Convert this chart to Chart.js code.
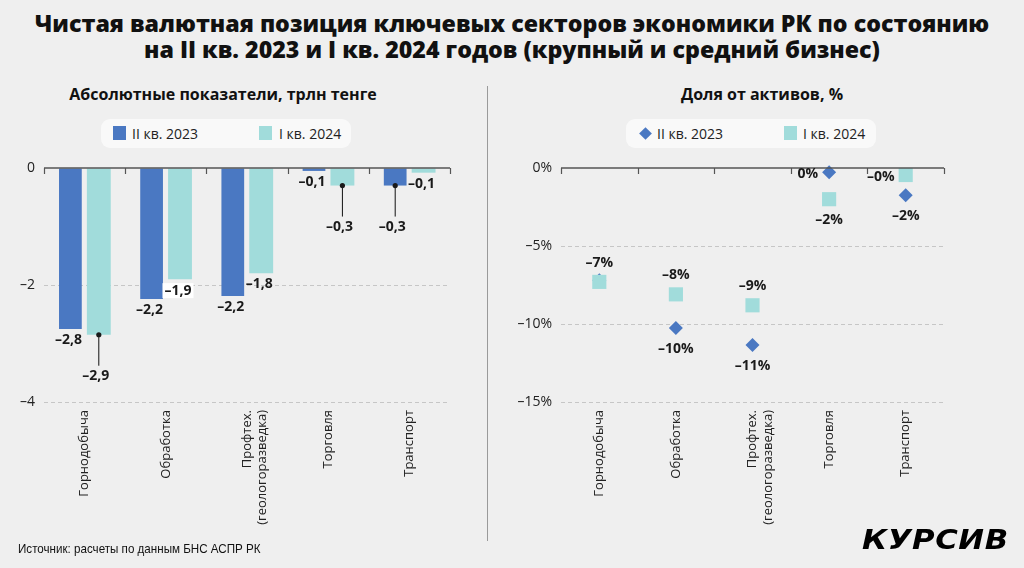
<!DOCTYPE html>
<html><head><meta charset="utf-8">
<script src="https://cdn.jsdelivr.net/npm/chart.js@4.4.0/dist/chart.umd.min.js"></script>
<style>
html,body{margin:0;padding:0;background:#efefef;}
body{width:1024px;height:568px;position:relative;overflow:hidden;font-family:'Open Sans',sans-serif;color:#111;}
.title{position:absolute;left:0;top:10px;width:1024px;text-align:center;font-weight:800;font-size:23.2px;line-height:26px;color:#111;}
.sub{position:absolute;top:84px;font-weight:700;font-size:16px;line-height:20px;text-align:center;white-space:nowrap;color:#111;}
.legend{position:absolute;top:119px;height:29px;width:250px;background:#f9f9f9;border-radius:9px;font-size:14px;color:#222;}
.legend .txt{position:absolute;top:0;line-height:29px;white-space:nowrap;}
.legend .sq{position:absolute;top:7px;width:13px;height:14px;}
.legend .dm{position:absolute;top:10px;width:9px;height:9px;transform:rotate(45deg);}
.divider{position:absolute;left:487px;top:86px;width:1px;height:455px;background:#9a9a9a;}
.source{position:absolute;left:18px;top:541px;font-family:'Liberation Sans Narrow','Liberation Sans',sans-serif;font-size:13.5px;line-height:16px;color:#111;white-space:nowrap;transform:scaleX(0.86);transform-origin:0 0;}
.logo{position:absolute;left:862px;top:524px;font-family:'DejaVu Sans',sans-serif;font-weight:900;font-style:italic;font-size:27px;line-height:32px;letter-spacing:0.5px;color:#000;white-space:nowrap;transform:scaleX(1.14);transform-origin:0 0;}
canvas{position:absolute;top:0;}
#c1{left:0;}
#c2{left:487px;}
</style>
</head>
<body>
<div class="title">Чистая валютная позиция ключевых секторов экономики РК по состоянию<br>на II кв. 2023 и I кв. 2024 годов (крупный и средний бизнес)</div>
<div class="sub" style="left:23px;width:400px;">Абсолютные показатели, трлн тенге</div>
<div class="sub" style="left:562px;width:400px;">Доля от активов, %</div>
<div class="legend" style="left:101px;">
  <div class="sq" style="left:12px;background:#4a78c2;"></div><div class="txt" style="left:31px;">II кв. 2023</div>
  <div class="sq" style="left:158px;background:#a1dcdb;"></div><div class="txt" style="left:178px;">I кв. 2024</div>
</div>
<div class="legend" style="left:626px;">
  <div class="dm" style="left:15px;background:#4a78c2;"></div><div class="txt" style="left:31px;">II кв. 2023</div>
  <div class="sq" style="left:158px;background:#a1dcdb;"></div><div class="txt" style="left:177px;">I кв. 2024</div>
</div>
<div class="divider"></div>
<canvas id="c1" width="487" height="568"></canvas>
<canvas id="c2" width="537" height="568"></canvas>
<div class="source">Источник: расчеты по данным БНС АСПР РК</div>
<div class="logo">КУРСИВ</div>
<script>
// ---- data ----
const categories = ['Горнодобыча', 'Обработка', ['Профтех.', '(геологоразведка)'], 'Торговля', 'Транспорт'];
const seriesNames = ['II кв. 2023', 'I кв. 2024'];
const abs2023 = [-2.75, -2.24, -2.19, -0.05, -0.30];
const abs2024 = [-2.85, -1.90, -1.80, -0.30, -0.08];
const absLabels2023 = ['–2,8', '–2,2', '–2,2', '–0,1', '–0,3'];
const absLabels2024 = ['–2,9', '–1,9', '–1,8', '–0,3', '–0,1'];
const pct2023 = [-7.2, -10.25, -11.35, -0.28, -1.75];
const pct2024 = [-7.3, -8.1, -8.8, -2.0, -0.45];
const pctLabels2023 = ['', '–10%', '–11%', '0%', '–2%'];
const pctLabels2024 = ['–7%', '–8%', '–9%', '–2%', '–0%'];
const absTicks = [0, -2, -4];
const pctTicks = [0, -5, -10, -15];

// ---- label placement (style) ----
const absPlace2023 = ['below', 'below', 'below', 'below', 'leader'];
const absPlace2024 = ['leader', 'boxed', 'below', 'leader', 'below'];
const pctPlace2023 = ['none', 'below', 'below', 'left', 'below'];
const pctPlace2024 = ['above', 'above', 'above', 'below', 'left'];

const BLUE = '#4a78c2', CYAN = '#a1dcdb';
Chart.defaults.font.family = "'Open Sans', sans-serif";
Chart.defaults.color = '#222';

const decor = {
  id: 'decor',
  afterDatasetsDraw(chart) {
    const ctx = chart.ctx, x = chart.scales.x, y = chart.scales.y, a = chart.chartArea;
    const y0 = y.getPixelForValue(0);
    ctx.save();
    ctx.strokeStyle = '#555'; ctx.lineWidth = 1.5;
    ctx.beginPath(); ctx.moveTo(a.left, y0); ctx.lineTo(a.right, y0); ctx.stroke();
    ctx.lineWidth = 1.2;
    for (let i = 0; i <= categories.length; i++) {
      const px = Math.round(x.getPixelForValue(i - 0.5)) + 0.5;
      ctx.beginPath(); ctx.moveTo(px, y0); ctx.lineTo(px, y0 + 6); ctx.stroke();
    }
    // labels
    const cfg = chart.options.plugins.decor;
    ctx.font = 'bold 14px "Open Sans"';
    ctx.textBaseline = 'middle';
    cfg.sets.forEach((s, di) => {
      const meta = chart.getDatasetMeta(di);
      meta.data.forEach((el, j) => {
        const txt = s.labels[j], mode = s.place[j];
        if (!txt || mode === 'none') return;
        const ex = el.x, ey = el.y;
        ctx.fillStyle = '#1a1a1a'; ctx.textAlign = 'center';
        if (cfg.kind === 'bar') {
          if (mode === 'below') {
            ctx.fillText(txt, ex - 2, ey + 11);
          } else if (mode === 'boxed') {
            const w = ctx.measureText(txt).width;
            ctx.fillStyle = '#ffffff';
            ctx.fillRect(ex - 2 - w / 2 - 2, ey + 4, w + 4, 15);
            ctx.fillStyle = '#1a1a1a';
            ctx.fillText(txt, ex - 2, ey + 12);
          } else if (mode === 'leader') {
            ctx.strokeStyle = '#111'; ctx.lineWidth = 1;
            ctx.beginPath(); ctx.moveTo(ex, ey); ctx.lineTo(ex, ey + 31); ctx.stroke();
            ctx.beginPath(); ctx.arc(ex, ey, 2.6, 0, Math.PI * 2); ctx.fill();
            ctx.fillText(txt, ex - 3, ey + 41);
          }
        } else {
          if (mode === 'above') ctx.fillText(txt, ex, ey - 19);
          else if (mode === 'below') ctx.fillText(txt, ex, ey + 21);
          else if (mode === 'left') { ctx.textAlign = 'right'; ctx.fillText(txt, ex - 11, ey + 2); }
        }
      });
    });
    ctx.restore();
  }
};

function yAxis(min, max, ticks, width, fmt) {
  return {
    min: min, max: max,
    afterBuildTicks: s => { s.ticks = ticks.map(v => ({ value: v })); },
    afterFit: s => { s.width = width; },
    grid: { color: c => (c.tick && c.tick.value === 0) ? 'rgba(0,0,0,0)' : '#c6c6c6', lineWidth: 1, drawTicks: false },
    border: { display: false, dash: [4, 3] },
    ticks: { padding: 9, color: '#222', font: { size: 14 }, callback: fmt }
  };
}
function xAxis() {
  return {
    type: 'category', offset: true,
    afterFit: s => { s.height = 166; },
    grid: { display: false, drawTicks: false },
    border: { display: false },
    ticks: { minRotation: 90, maxRotation: 90, autoSkip: false, padding: 8, color: '#222', font: { size: 13 } }
  };
}

new Chart(document.getElementById('c1'), {
  type: 'bar',
  data: {
    labels: categories,
    datasets: [
      { label: seriesNames[0], data: abs2023, backgroundColor: BLUE, borderWidth: 0, categoryPercentage: 0.70, barPercentage: 0.80 },
      { label: seriesNames[1], data: abs2024, backgroundColor: CYAN, borderWidth: 0, categoryPercentage: 0.70, barPercentage: 0.84 }
    ]
  },
  options: {
    responsive: false, animation: false, devicePixelRatio: 1,
    layout: { padding: { top: 168, right: 37, left: 0, bottom: 0 } },
    plugins: {
      legend: { display: false }, tooltip: { enabled: false },
      decor: { kind: 'bar', sets: [{ labels: absLabels2023, place: absPlace2023 }, { labels: absLabels2024, place: absPlace2024 }] }
    },
    scales: {
      x: xAxis(),
      y: yAxis(-4, 0, absTicks, 44, v => v === 0 ? '0' : '\u2013' + Math.abs(v))
    }
  },
  plugins: [decor]
});

new Chart(document.getElementById('c2'), {
  type: 'line',
  data: {
    labels: categories,
    datasets: [
      { label: seriesNames[0], data: pct2023, showLine: false, pointStyle: 'rectRot', pointRadius: 7, pointBorderWidth: 0,
        backgroundColor: BLUE, borderColor: BLUE, order: 1, clip: false },
      { label: seriesNames[1], data: pct2024, showLine: false, pointStyle: 'rect', pointRadius: 10, pointBorderWidth: 0,
        backgroundColor: CYAN, borderColor: CYAN, order: 0, clip: false }
    ]
  },
  options: {
    responsive: false, animation: false, devicePixelRatio: 1,
    layout: { padding: { top: 168, right: 80, left: 0, bottom: 0 } },
    plugins: {
      legend: { display: false }, tooltip: { enabled: false },
      decor: { kind: 'point', sets: [{ labels: pctLabels2023, place: pctPlace2023 }, { labels: pctLabels2024, place: pctPlace2024 }] }
    },
    scales: {
      x: xAxis(),
      y: yAxis(-15, 0, pctTicks, 74, v => v === 0 ? '0%' : '\u2013' + Math.abs(v) + '%')
    }
  },
  plugins: [decor]
});
</script>
</body></html>
